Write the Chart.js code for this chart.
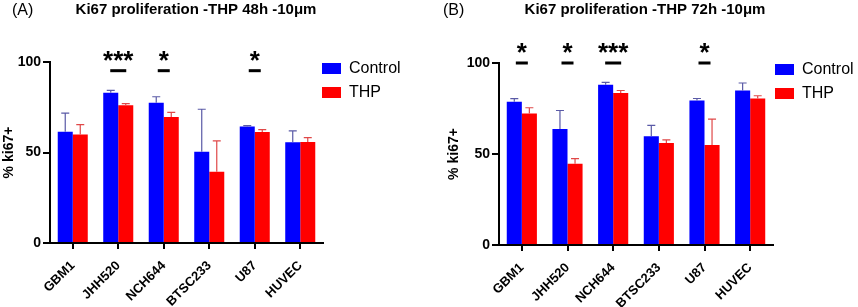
<!DOCTYPE html>
<html>
<head>
<meta charset="utf-8">
<script src="https://cdn.jsdelivr.net/npm/chart.js@4"></script>
<style>
  body { margin: 0; background: #fff; }
  #wrap { position: relative; width: 858px; height: 307px; }
  canvas { position: absolute; top: 0; }
</style>
</head>
<body>
<div id="wrap">
  <canvas id="chartA" width="430" height="307" style="left:0"></canvas>
  <canvas id="chartB" width="428" height="307" style="left:430px"></canvas>
</div>
<script>
/* ===== data ===== */
const cellLines = ["GBM1", "JHH520", "NCH644", "BTSC233", "U87", "HUVEC"];
const yTicks = [0, 50, 100];

// 48h
const ctrlA    = [61.5, 83.0, 77.5, 50.4, 64.3, 55.6];
const ctrlErrA = [10.3, 1.3, 3.3, 23.5, 0.5, 6.4];
const thpA     = [60.0, 76.1, 69.6, 39.4, 61.3, 55.8];
const thpErrA  = [5.4, 0.9, 2.6, 17.0, 1.3, 2.4];
const sigA     = ["", "***", "*", "", "*", ""];

// 72h
const ctrlB    = [78.7, 63.7, 88.1, 59.8, 79.4, 84.9];
const ctrlErrB = [1.7, 10.2, 1.2, 5.9, 1.1, 4.1];
const thpB     = [72.3, 44.7, 83.5, 56.1, 55.0, 80.5];
const thpErrB  = [3.1, 2.8, 1.4, 1.7, 14.2, 1.5];
const sigB     = ["*", "*", "***", "", "*", ""];

const FONT = "'Liberation Sans', Arial, sans-serif";
Chart.defaults.font.family = FONT;
Chart.defaults.color = "#000";

/* ===== error bars (upward only) ===== */
const errorBars = {
  id: "errorBars",
  afterDatasetsDraw(chart) {
    const ctx = chart.ctx;
    const y = chart.scales.y;
    chart.data.datasets.forEach((ds, i) => {
      const meta = chart.getDatasetMeta(i);
      meta.data.forEach((bar, j) => {
        const top = y.getPixelForValue(ds.data[j] + ds.errors[j]);
        ctx.save();
        ctx.strokeStyle = ds.errColor;
        ctx.lineWidth = 1.2;
        ctx.beginPath();
        ctx.moveTo(bar.x, bar.y);
        ctx.lineTo(bar.x, top);
        ctx.moveTo(bar.x - 4, top);
        ctx.lineTo(bar.x + 4, top);
        ctx.stroke();
        ctx.restore();
      });
    });
  }
};

/* ===== titles, legend, significance marks ===== */
const panelDeco = {
  id: "panelDeco",
  afterDraw(chart, args, opts) {
    const ctx = chart.ctx;
    const area = chart.chartArea;
    ctx.save();
    ctx.fillStyle = "#000";
    ctx.textBaseline = "alphabetic";

    ctx.font = "16px " + FONT;
    ctx.textAlign = "left";
    ctx.fillText(opts.letter, opts.letterX, 15);

    ctx.font = "bold 15px " + FONT;
    ctx.textAlign = "center";
    ctx.fillText(opts.title, opts.titleX, 14);

    // legend
    ctx.textAlign = "left";
    ctx.textBaseline = "middle";
    ctx.font = "16px " + FONT;
    chart.data.datasets.forEach((ds, i) => {
      const top = area.top + 1 + i * 24;
      ctx.fillStyle = ds.backgroundColor;
      ctx.fillRect(opts.legendX, top, 19, 11);
      ctx.fillStyle = "#000";
      ctx.fillText(ds.label, opts.legendX + 27, top + 6);
    });

    // significance
    const xs = chart.scales.x, ys = chart.scales.y;
    const lineY = ys.getPixelForValue(opts.sigLevel);
    ctx.textAlign = "center";
    ctx.textBaseline = "alphabetic";
    ctx.font = "bold 26px " + FONT;
    opts.sig.forEach((s, j) => {
      if (!s) return;
      const cx = xs.getPixelForValue(j);
      const w = 12 + (s.length - 1) * 2;
      ctx.fillStyle = "#000";
      ctx.fillRect(cx - w / 2, lineY - 1.5, w, 3);
      ctx.fillText(s, cx, lineY - 2);
    });
    ctx.restore();
  }
};

function makeChart(id, ctrl, ctrlErr, thp, thpErr, layout, deco) {
  return new Chart(document.getElementById(id), {
    type: "bar",
    data: {
      labels: cellLines,
      datasets: [
        { label: "Control", data: ctrl, errors: ctrlErr, backgroundColor: "#0000ff", errColor: "#5a5aa6" },
        { label: "THP", data: thp, errors: thpErr, backgroundColor: "#ff0000", errColor: "#e04848" }
      ]
    },
    options: {
      responsive: false,
      animation: false,
      devicePixelRatio: 1,
      categoryPercentage: 0.66,
      barPercentage: 1,
      layout: { padding: { top: layout.top, left: layout.left, right: layout.right, bottom: 0 } },
      plugins: {
        legend: { display: false },
        tooltip: { enabled: false },
        panelDeco: deco
      },
      scales: {
        x: {
          grid: { display: true, offset: false, drawOnChartArea: false, tickLength: 6, color: "#000", lineWidth: 2 },
          border: { color: "#000", width: 2 },
          ticks: { maxRotation: 45, minRotation: 45, font: { size: 13, weight: "bold" }, color: "#000", padding: 9 },
          afterFit: s => { s.height = layout.xHeight; }
        },
        y: {
          min: 0, max: 100,
          afterBuildTicks: s => { s.ticks = yTicks.map(v => ({ value: v })); },
          grid: { display: true, drawOnChartArea: false, tickLength: 7, color: "#000", lineWidth: 2 },
          border: { color: "#000", width: 2 },
          ticks: { font: { size: 14, weight: "bold" }, color: "#000", padding: 2 },
          title: { display: true, text: "% ki67+", font: { size: 14, weight: "bold" }, color: "#000", padding: 1 },
          afterFit: s => { s.width = layout.yWidth; }
        }
      }
    },
    plugins: [errorBars, panelDeco]
  });
}

document.addEventListener("DOMContentLoaded", () => {
  makeChart("chartA", ctrlA, ctrlErrA, thpA, thpErrA,
    { top: 62, left: 0, right: 107, xHeight: 64, yWidth: 50 },
    { letter: "(A)", letterX: 12, title: "Ki67 proliferation -THP 48h -10\u03bcm", titleX: 196,
      legendX: 322, sig: sigA, sigLevel: 95.2 });
  makeChart("chartB", ctrlB, ctrlErrB, thpB, thpErrB,
    { top: 63, left: 15, right: 85, xHeight: 62, yWidth: 54 },
    { letter: "(B)", letterX: 13, title: "Ki67 proliferation -THP 72h -10\u03bcm", titleX: 215,
      legendX: 345, sig: sigB, sigLevel: 100 });
});
</script>
</body>
</html>
